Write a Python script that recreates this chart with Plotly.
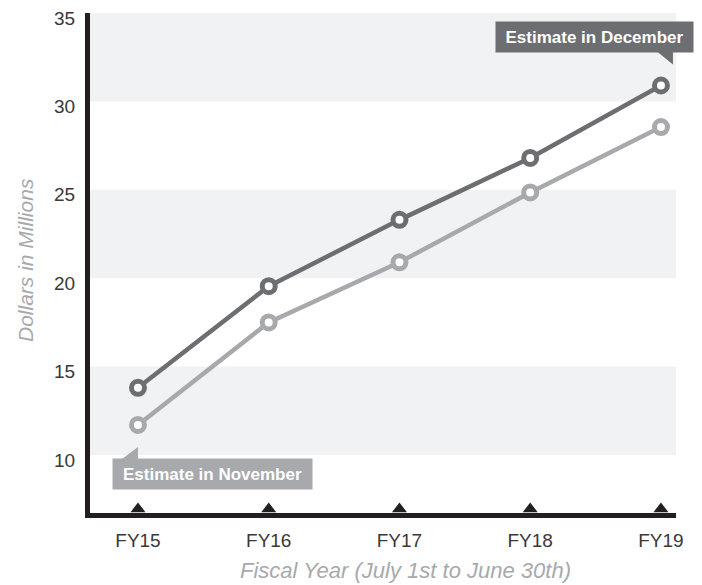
import plotly.graph_objects as go

# ---- data ----
FISCAL_YEARS = ["FY15", "FY16", "FY17", "FY18", "FY19"]
DECEMBER_ESTIMATE = [13.8, 19.55, 23.3, 26.8, 30.9]
NOVEMBER_ESTIMATE = [11.7, 17.5, 20.9, 24.85, 28.55]
Y_TICKS = [10, 15, 20, 25, 30, 35]
BANDS = [(10, 15), (20, 25), (30, 35)]
Y_TITLE = "Dollars in Millions"
X_TITLE = "Fiscal Year (July 1st to June 30th)"
DEC_LABEL = "Estimate in December"
NOV_LABEL = "Estimate in November"

# ---- style ----
DARK = "#6d6e71"
LIGHT = "#a7a9ac"
AXIS = "#231f20"
TEXT = "#3a3839"
BAND = "#f1f2f4"
FONT = "Liberation Sans, Arial, sans-serif"

W, H = 702, 585
M = dict(l=90, r=26, t=13, b=72)
Y_RANGE = [6.72, 35]
X_RANGE = [-0.367, 4.115]
plot_h = H - M["t"] - M["b"]
plot_w = W - M["l"] - M["r"]
px_per_unit = plot_h / (Y_RANGE[1] - Y_RANGE[0])

fig = go.Figure()

for vals, col in [(NOVEMBER_ESTIMATE, LIGHT), (DECEMBER_ESTIMATE, DARK)]:
    fig.add_trace(go.Scatter(
        x=FISCAL_YEARS, y=vals, mode="lines+markers",
        line=dict(color=col, width=4.5),
        marker=dict(symbol="circle", size=13, color="white",
                    line=dict(color=col, width=5)),
        hoverinfo="skip", cliponaxis=False))

# triangle tick marks sitting on the x axis
fig.add_trace(go.Scatter(
    x=FISCAL_YEARS, y=[Y_RANGE[0] + 4 / px_per_unit] * len(FISCAL_YEARS),
    mode="markers", marker=dict(symbol="triangle-up", size=13, color=AXIS),
    hoverinfo="skip", cliponaxis=False))

shapes = []
for y0, y1 in BANDS:
    shapes.append(dict(type="rect", xref="paper", x0=0, x1=1, yref="y",
                       y0=y0, y1=y1, fillcolor=BAND, line=dict(width=0),
                       layer="below"))

# callout pointers
last = len(FISCAL_YEARS) - 1
shapes.append(dict(type="path", xref="x", yref="y", xsizemode="pixel",
                   ysizemode="pixel", xanchor=last,
                   yanchor=DECEMBER_ESTIMATE[last],
                   path="M -4,34 L 12,34 L 12,21 Z",
                   fillcolor=DARK, line=dict(width=0)))
shapes.append(dict(type="path", xref="x", yref="y", xsizemode="pixel",
                   ysizemode="pixel", xanchor=0,
                   yanchor=NOVEMBER_ESTIMATE[0],
                   path="M -16,-34 L 0,-34 L 0,-22 Z",
                   fillcolor=LIGHT, line=dict(width=0)))

annotations = []
annotations.append(dict(
    x=last, y=DECEMBER_ESTIMATE[last], xref="x", yref="y",
    xshift=-66.5, yshift=48, showarrow=False, text=f"<b>{DEC_LABEL}</b>",
    font=dict(family=FONT, size=17, color="white"), bgcolor=DARK,
    width=197, height=30, borderpad=0, xanchor="center", yanchor="middle"))
annotations.append(dict(
    x=0, y=NOVEMBER_ESTIMATE[0], xref="x", yref="y",
    xshift=74.5, yshift=-49, showarrow=False, text=f"<b>{NOV_LABEL}</b>",
    font=dict(family=FONT, size=17, color="white"), bgcolor=LIGHT,
    width=199, height=30, borderpad=0, xanchor="center", yanchor="middle"))

for v in Y_TICKS:
    annotations.append(dict(
        x=(77 - M["l"]) / plot_w, y=v, xref="paper", yref="y", yshift=-5,
        xanchor="right", yanchor="middle", showarrow=False, text=str(v),
        font=dict(family=FONT, size=19, color=TEXT)))

annotations.append(dict(
    x=(25 - M["l"]) / plot_w, y=(H - M["b"] - 260) / plot_h,
    xref="paper", yref="paper", textangle=-90, showarrow=False,
    text=f"<i>{Y_TITLE}</i>", xanchor="center", yanchor="middle",
    font=dict(family=FONT, size=21, color=LIGHT)))
annotations.append(dict(
    x=(405 - M["l"]) / plot_w, y=(H - M["b"] - 570) / plot_h,
    xref="paper", yref="paper", showarrow=False,
    text=f"<i>{X_TITLE}</i>", xanchor="center", yanchor="middle",
    font=dict(family=FONT, size=22, color=LIGHT)))

fig.update_layout(
    width=W, height=H, margin=M, showlegend=False,
    plot_bgcolor="white", paper_bgcolor="white",
    font=dict(family=FONT),
    shapes=shapes, annotations=annotations,
    xaxis=dict(type="category", categoryorder="array",
               categoryarray=FISCAL_YEARS, range=X_RANGE,
               showgrid=False, zeroline=False, showline=True,
               linewidth=4.5, linecolor=AXIS, ticks="",
               tickfont=dict(family=FONT, size=19, color=TEXT),
               ticklabelstandoff=6),
    yaxis=dict(range=Y_RANGE, showgrid=False, zeroline=False,
               showline=True, linewidth=4.5, linecolor=AXIS,
               showticklabels=False, ticks=""),
)

fig.write_html("out.html", config={"displayModeBar": False},
               post_script="document.body.style.margin='0';")
